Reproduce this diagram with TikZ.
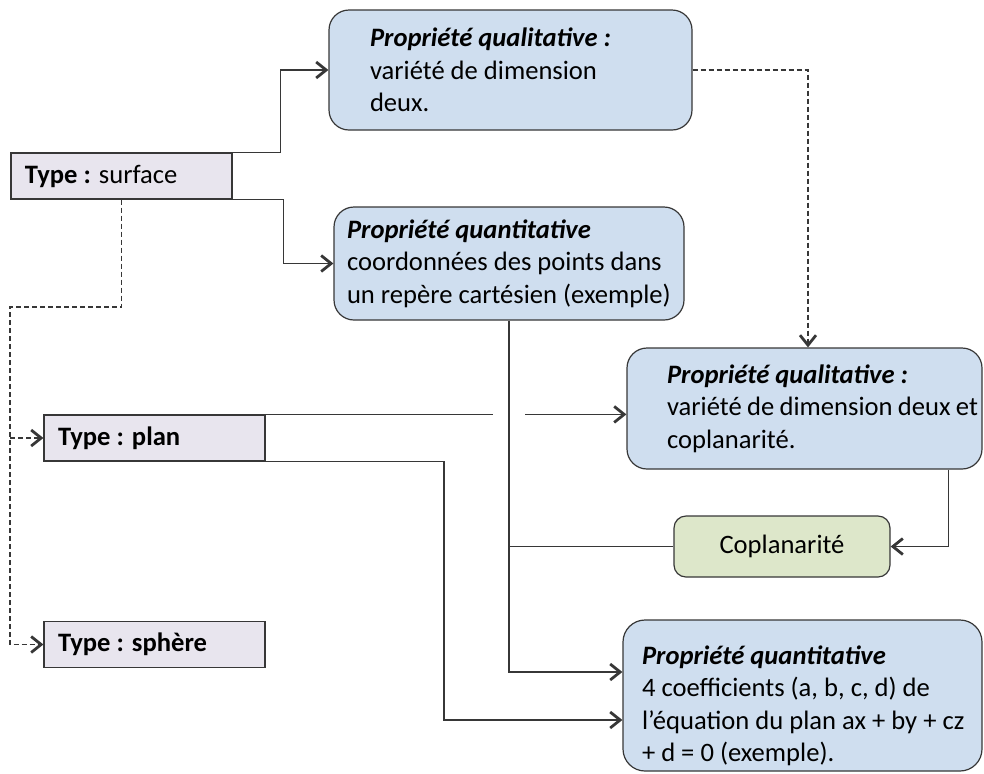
\documentclass[tikz,border=0pt]{standalone}
\usepackage{fontspec}
\setmainfont{Carlito}
\usetikzlibrary{
    arrows.meta,
    positioning,
    calc
}
\definecolor{propblue}{RGB}{207,222,239}
\definecolor{typegray}{RGB}{232,229,238}
\definecolor{coplgreen}{RGB}{221,231,202}
\definecolor{linegray}{RGB}{55,55,55}
\tikzstyle{typebox} = [
    rectangle,
    draw=linegray,
    line width=0.6pt,
    fill=typegray,
    text width=96.5pt,
    inner xsep=7pt,
    minimum height=23pt,
    align=flush left,
    font=\fontsize{13.3pt}{16.25pt}\selectfont
]
\tikzstyle{propbox} = [
    rectangle,
    rounded corners=10pt,
    draw=linegray,
    line width=0.6pt,
    fill=propblue,
    inner xsep=2pt,
    align=flush left,
    font=\fontsize{13.3pt}{16.25pt}\selectfont
]
\tikzstyle{coplbox} = [
    rectangle,
    rounded corners=6pt,
    draw=linegray,
    line width=0.6pt,
    fill=coplgreen,
    minimum width=108pt,
    minimum height=30.5pt,
    align=center,
    font=\fontsize{13.3pt}{16.25pt}\selectfont
]
\tikzstyle{line} = [
    draw=linegray,
    line width=0.6pt
]
\tikzstyle{arrow} = [
    line,
    -{Straight Barb[length=5pt,width=8pt,line width=1.4pt]}
]
\tikzstyle{dasharrow} = [
    arrow,
    dash pattern=on 2.5pt off 1.5pt
]
\tikzset{lpad/.style={execute at begin node={\leftskip=#1\relax}}}
\newcommand{\proptitle}[1]{\textbf{\textit{#1}}}

\begin{document}
\begin{tikzpicture}[x=0.5pt, y=-0.5pt]
        \useasboundingbox (0,0) rectangle (984,773);

        % Nodes
        \node[typebox] (surface) at (121.5,176) {\textbf{Type :} surface};
        \node[typebox] (plan) at (154.5,438) {\textbf{Type : plan}};
        \node[typebox] (sphere) at (154.5,644.5) {\textbf{Type : sphère}};

        \node[propbox, text width=177.5pt, minimum height=60pt, lpad=18.5pt] (qual1) at (510.5,70)
            {\proptitle{Propriété qualitative :}\\variété de dimension\\deux.};
        \node[propbox, text width=171pt, minimum height=56.5pt, lpad=4.5pt] (quant1) at (509,263.5)
            {\proptitle{Propriété quantitative}\\coordonnées des points dans\\un repère cartésien (exemple)};
        \node[propbox, text width=173.5pt, minimum height=60.5pt, lpad=18pt] (qual2) at (804.5,408.5)
            {\proptitle{Propriété qualitative :}\\variété de dimension deux et\\coplanarité.};
        \node[coplbox] (coplan) at (782,546.5) {Coplanarité};
        \node[propbox, rounded corners=11pt, text width=175.5pt, minimum height=75.5pt, inner ysep=0pt, lpad=7.5pt] (quant2) at (802.5,695.5)
            {\rule{0pt}{19.5pt}\proptitle{Propriété quantitative}\\4 coefficients (a, b, c, d) de\\l’équation du plan ax + by + cz\\+ d = 0 (exemple).};

        % Surface to its properties
        \draw[arrow] (surface.north east) -- ++(48,0) |- (qual1.west);
        \draw[arrow] (surface.south east) -- ++(51,0) |- (quant1.west);

        % Surface to plan and sphere (dashed, left side)
        \coordinate (branch) at (10,307);
        \draw[dasharrow] (surface.south) |- (branch) |- (sphere.west);
        \draw[dasharrow] (branch |- plan.west) -- (plan.west);

        % Qualitative property handed down
        \draw[dasharrow] (qual1.east) -| ($(qual2.north)+(3.5,0)$);

        % Plan to qualitative property (jump over the vertical line)
        \draw[line] (plan.north east) -- ($(plan.north east -| quant1.south)+(-16,0)$);
        \draw[arrow] ($(plan.north east -| quant1.south)+(16,0)$) -- (plan.north east -| qual2.west);

        % Plan to quantitative property
        \coordinate (jog) at (444,720);
        \draw[arrow] (plan.south east) -| (jog) -- (jog -| quant2.west);

        % Quantitative property handed down
        \draw[arrow] (quant1.south) |- ($(quant2.west)+(0,-23.5)$);

        % Coplanarity
        \draw[arrow] ($(qual2.south east)+(-34,0)$) |- (coplan.east);
        \draw[line] (coplan.west) -- (coplan.west -| quant1.south);
    \end{tikzpicture}
\end{document}
